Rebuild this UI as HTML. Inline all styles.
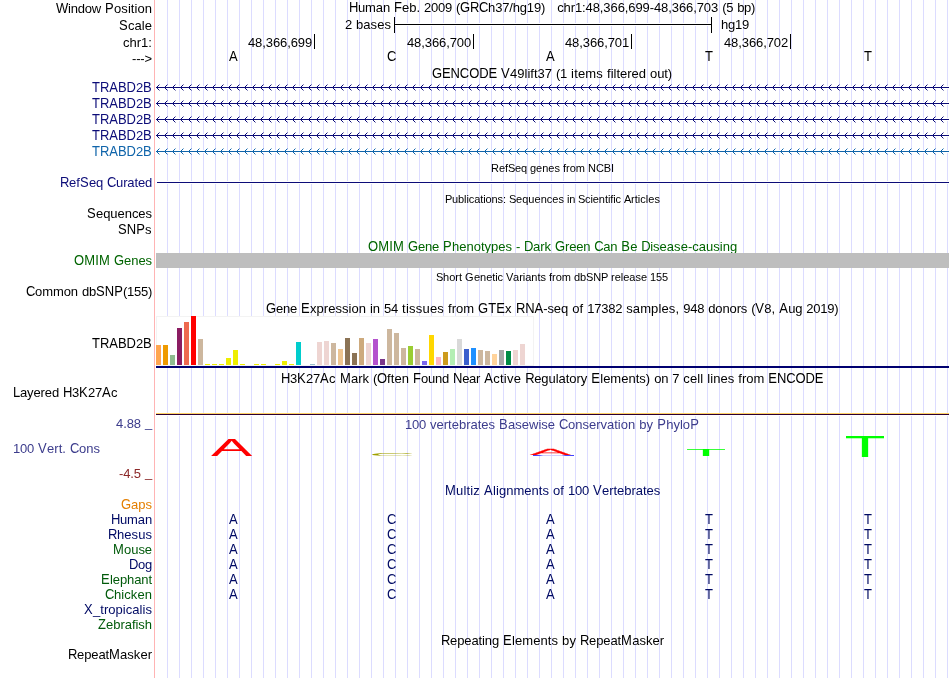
<!DOCTYPE html>
<html><head><meta charset="utf-8"><title>UCSC Genome Browser chr1:48,366,699-48,366,703</title>
<style>
html,body{margin:0;padding:0;background:#fff;}
body{width:950px;height:678px;position:relative;overflow:hidden;font-family:"Liberation Sans",Arial,Helvetica,sans-serif;font-size:13px;color:#000;}
.g{position:absolute;top:0;width:1px;height:678px;background:#dcdcff;}
.pk{position:absolute;top:0;left:154px;width:1px;height:678px;background:#ffb4b4;}
.t{position:absolute;white-space:pre;line-height:16px;height:16px;font-size:13px;word-spacing:0.39px;}
.u{display:inline-block;transform:scaleY(1.111);transform-origin:0 12px;}
.s{font-size:11px;word-spacing:-0.06px;}
.b{position:absolute;}
.nv{color:#0c0c78;}
.bl{color:#1c78b4;}
.gr{color:#006400;}
.mz{color:#000a64;}
.mg{color:#005a0a;}
</style></head><body>
<div class="g" style="left:167px"></div>
<div class="g" style="left:179px"></div>
<div class="g" style="left:191px"></div>
<div class="g" style="left:203px"></div>
<div class="g" style="left:215px"></div>
<div class="g" style="left:227px"></div>
<div class="g" style="left:239px"></div>
<div class="g" style="left:251px"></div>
<div class="g" style="left:263px"></div>
<div class="g" style="left:275px"></div>
<div class="g" style="left:287px"></div>
<div class="g" style="left:299px"></div>
<div class="g" style="left:311px"></div>
<div class="g" style="left:323px"></div>
<div class="g" style="left:335px"></div>
<div class="g" style="left:347px"></div>
<div class="g" style="left:359px"></div>
<div class="g" style="left:371px"></div>
<div class="g" style="left:383px"></div>
<div class="g" style="left:395px"></div>
<div class="g" style="left:407px"></div>
<div class="g" style="left:419px"></div>
<div class="g" style="left:431px"></div>
<div class="g" style="left:443px"></div>
<div class="g" style="left:455px"></div>
<div class="g" style="left:467px"></div>
<div class="g" style="left:479px"></div>
<div class="g" style="left:491px"></div>
<div class="g" style="left:503px"></div>
<div class="g" style="left:515px"></div>
<div class="g" style="left:527px"></div>
<div class="g" style="left:539px"></div>
<div class="g" style="left:551px"></div>
<div class="g" style="left:563px"></div>
<div class="g" style="left:575px"></div>
<div class="g" style="left:587px"></div>
<div class="g" style="left:599px"></div>
<div class="g" style="left:611px"></div>
<div class="g" style="left:623px"></div>
<div class="g" style="left:635px"></div>
<div class="g" style="left:647px"></div>
<div class="g" style="left:659px"></div>
<div class="g" style="left:671px"></div>
<div class="g" style="left:683px"></div>
<div class="g" style="left:695px"></div>
<div class="g" style="left:707px"></div>
<div class="g" style="left:719px"></div>
<div class="g" style="left:731px"></div>
<div class="g" style="left:743px"></div>
<div class="g" style="left:755px"></div>
<div class="g" style="left:767px"></div>
<div class="g" style="left:779px"></div>
<div class="g" style="left:791px"></div>
<div class="g" style="left:803px"></div>
<div class="g" style="left:815px"></div>
<div class="g" style="left:827px"></div>
<div class="g" style="left:839px"></div>
<div class="g" style="left:851px"></div>
<div class="g" style="left:863px"></div>
<div class="g" style="left:875px"></div>
<div class="g" style="left:887px"></div>
<div class="g" style="left:899px"></div>
<div class="g" style="left:911px"></div>
<div class="g" style="left:923px"></div>
<div class="g" style="left:935px"></div>
<div class="g" style="left:947px"></div>
<div class="pk"></div>
<div class="t" style="left:56px;top:1px;"><span class="u" style="letter-spacing:-0.270px">W</span><span style="letter-spacing:-0.193px">indow</span> <span class="u" style="letter-spacing:0.329px">P</span><span style="letter-spacing:0.060px">osition</span></div>
<div class="t" style="left:119px;top:18px;"><span class="u" style="letter-spacing:0.329px">S</span><span style="letter-spacing:0.038px">cale</span></div>
<div class="t" style="left:123px;top:35px;"><span style="letter-spacing:0.020px">chr1:</span></div>
<div class="t" style="left:132px;top:51px;"><span style="letter-spacing:-0.145px">---&gt;</span></div>
<div class="t" style="left:349px;top:0px;"><span class="u" style="letter-spacing:-0.388px">H</span><span style="letter-spacing:-0.130px">uman</span> <span class="u" style="letter-spacing:0.059px">F</span><span style="letter-spacing:-0.024px">eb.</span> <span style="letter-spacing:-0.230px">2009</span> <span style="letter-spacing:-0.329px">(</span><span class="u" style="letter-spacing:-0.296px">GRC</span><span style="letter-spacing:-0.172px">h37/hg19)</span>   <span style="letter-spacing:-0.091px">chr1:48,366,699-48,366,703</span> <span style="letter-spacing:-0.280px">(5</span> <span style="letter-spacing:-0.263px">bp)</span></div>
<div class="t" style="left:345px;top:17px;"><span style="letter-spacing:-0.230px">2</span> <span style="letter-spacing:0.062px">bases</span></div>
<div class="b" style="left:394px;top:17px;width:1px;height:16px;background:#000;"></div>
<div class="b" style="left:395px;top:23px;width:316px;height:3px;background:#fff;"></div>
<div class="b" style="left:394px;top:24px;width:318px;height:1px;background:#000;"></div>
<div class="b" style="left:711px;top:17px;width:1px;height:16px;background:#000;"></div>
<div class="t" style="left:721px;top:17px;"><span style="letter-spacing:-0.230px">hg19</span></div>
<div class="t" style="left:248px;top:35px;"><span style="letter-spacing:-0.106px">48,366,699</span></div>
<div class="b" style="left:314px;top:34px;width:1px;height:15px;background:#000;"></div>
<div class="t" style="left:407px;top:35px;"><span style="letter-spacing:-0.106px">48,366,700</span></div>
<div class="b" style="left:473px;top:34px;width:1px;height:15px;background:#000;"></div>
<div class="t" style="left:565px;top:35px;"><span style="letter-spacing:-0.106px">48,366,701</span></div>
<div class="b" style="left:631px;top:34px;width:1px;height:15px;background:#000;"></div>
<div class="t" style="left:724px;top:35px;"><span style="letter-spacing:-0.106px">48,366,702</span></div>
<div class="b" style="left:790px;top:34px;width:1px;height:15px;background:#000;"></div>
<div class="t" style="left:229px;top:49px;"><span class="u" style="letter-spacing:0.329px">A</span></div>
<div class="t" style="left:387px;top:49px;"><span class="u" style="letter-spacing:-0.388px">C</span></div>
<div class="t" style="left:546px;top:49px;"><span class="u" style="letter-spacing:0.329px">A</span></div>
<div class="t" style="left:705px;top:49px;"><span class="u" style="letter-spacing:0.059px">T</span></div>
<div class="t" style="left:864px;top:49px;"><span class="u" style="letter-spacing:0.059px">T</span></div>
<div class="t" style="left:432px;top:66px;"><span class="u" style="letter-spacing:-0.104px">GENCODE</span> <span class="u" style="letter-spacing:0.329px">V</span><span style="letter-spacing:0.010px">49lift37</span> <span style="letter-spacing:-0.280px">(1</span> <span style="letter-spacing:0.188px">items</span> filtered <span style="letter-spacing:-0.100px">out)</span></div>
<svg width="0" height="0" style="position:absolute"><defs><pattern id="ar0" width="8" height="7" patternUnits="userSpaceOnUse"><rect x="0" y="3" width="8" height="1" fill="#0c0c78"/><rect x="1" y="2" width="1" height="3" fill="#0c0c78"/><rect x="2" y="1" width="1" height="1" fill="#0c0c78"/><rect x="2" y="5" width="1" height="1" fill="#0c0c78"/><rect x="3" y="0" width="1" height="1" fill="#0c0c78" opacity="0.45"/><rect x="3" y="6" width="1" height="1" fill="#0c0c78" opacity="0.45"/></pattern><pattern id="ar1" width="8" height="7" patternUnits="userSpaceOnUse"><rect x="0" y="3" width="8" height="1" fill="#0f64aa"/><rect x="1" y="2" width="1" height="3" fill="#0f64aa"/><rect x="2" y="1" width="1" height="1" fill="#0f64aa"/><rect x="2" y="5" width="1" height="1" fill="#0f64aa"/><rect x="3" y="0" width="1" height="1" fill="#0f64aa" opacity="0.45"/><rect x="3" y="6" width="1" height="1" fill="#0f64aa" opacity="0.45"/></pattern></defs></svg>
<div class="t" style="left:92px;top:80px;color:#0c0c78"><span class="u" style="letter-spacing:-0.012px">TRABD</span><span style="letter-spacing:-0.230px">2</span><span class="u" style="letter-spacing:0.329px">B</span></div>
<div class="b" style="left:156px;top:86px;width:793px;height:3px;background:#fff;"></div>
<svg class="b" style="left:156px;top:84px" width="793" height="7" shape-rendering="crispEdges"><rect width="793" height="7" fill="url(#ar0)"/></svg>
<div class="t" style="left:92px;top:96px;color:#0c0c78"><span class="u" style="letter-spacing:-0.012px">TRABD</span><span style="letter-spacing:-0.230px">2</span><span class="u" style="letter-spacing:0.329px">B</span></div>
<div class="b" style="left:156px;top:102px;width:793px;height:3px;background:#fff;"></div>
<svg class="b" style="left:156px;top:100px" width="793" height="7" shape-rendering="crispEdges"><rect width="793" height="7" fill="url(#ar0)"/></svg>
<div class="t" style="left:92px;top:112px;color:#0c0c78"><span class="u" style="letter-spacing:-0.012px">TRABD</span><span style="letter-spacing:-0.230px">2</span><span class="u" style="letter-spacing:0.329px">B</span></div>
<div class="b" style="left:156px;top:118px;width:793px;height:3px;background:#fff;"></div>
<svg class="b" style="left:156px;top:116px" width="793" height="7" shape-rendering="crispEdges"><rect width="793" height="7" fill="url(#ar0)"/></svg>
<div class="t" style="left:92px;top:128px;color:#0c0c78"><span class="u" style="letter-spacing:-0.012px">TRABD</span><span style="letter-spacing:-0.230px">2</span><span class="u" style="letter-spacing:0.329px">B</span></div>
<div class="b" style="left:156px;top:134px;width:793px;height:3px;background:#fff;"></div>
<svg class="b" style="left:156px;top:132px" width="793" height="7" shape-rendering="crispEdges"><rect width="793" height="7" fill="url(#ar0)"/></svg>
<div class="t" style="left:92px;top:144px;color:#0f64aa"><span class="u" style="letter-spacing:-0.012px">TRABD</span><span style="letter-spacing:-0.230px">2</span><span class="u" style="letter-spacing:0.329px">B</span></div>
<div class="b" style="left:156px;top:150px;width:793px;height:3px;background:#fff;"></div>
<svg class="b" style="left:156px;top:148px" width="793" height="7" shape-rendering="crispEdges"><rect width="793" height="7" fill="url(#ar1)"/></svg>
<div class="t s" style="left:491px;top:160px;"><span style="letter-spacing:0.056px">R</span><span style="letter-spacing:-0.087px">ef</span><span style="letter-spacing:-0.337px">S</span><span style="letter-spacing:-0.118px">eq</span> <span style="letter-spacing:0.006px">genes</span> from <span style="letter-spacing:-0.070px">NCBI</span></div>
<div class="t nv" style="left:60px;top:175px;"><span class="u" style="letter-spacing:-0.388px">R</span><span style="letter-spacing:0.079px">ef</span><span class="u" style="letter-spacing:0.329px">S</span><span style="letter-spacing:-0.230px">eq</span> <span class="u" style="letter-spacing:-0.388px">C</span><span style="letter-spacing:-0.143px">urated</span></div>
<div class="b" style="left:157px;top:181px;width:792px;height:3px;background:#fff;"></div>
<div class="b" style="left:157px;top:182px;width:792px;height:1px;background:#0c0c78;"></div>
<div class="t s" style="left:445px;top:191px;"><span style="letter-spacing:-0.337px">P</span><span style="letter-spacing:-0.086px">ublications:</span> <span style="letter-spacing:-0.337px">S</span><span style="letter-spacing:0.037px">equences</span> <span style="letter-spacing:-0.281px">in</span> <span style="letter-spacing:-0.337px">S</span><span style="letter-spacing:-0.075px">cientific</span> <span style="letter-spacing:-0.337px">A</span><span style="letter-spacing:0.039px">rticles</span></div>
<div class="t" style="left:87px;top:206px;"><span class="u" style="letter-spacing:0.329px">S</span><span style="letter-spacing:-0.047px">equences</span></div>
<div class="t" style="left:118px;top:222px;"><span class="u" style="letter-spacing:0.090px">SNP</span><span style="letter-spacing:0.500px">s</span></div>
<div class="t gr" style="left:368px;top:239px;"><span class="u" style="letter-spacing:0.155px">OMIM</span> <span class="u" style="letter-spacing:-0.112px">G</span><span style="letter-spacing:-0.230px">ene</span> <span class="u" style="letter-spacing:0.329px">P</span>henotypes <span style="letter-spacing:-0.329px">-</span> <span class="u" style="letter-spacing:-0.388px">D</span><span style="letter-spacing:-0.020px">ark</span> <span class="u" style="letter-spacing:-0.112px">G</span><span style="letter-spacing:-0.255px">reen</span> <span class="u" style="letter-spacing:-0.388px">C</span><span style="letter-spacing:-0.230px">an</span> <span class="u" style="letter-spacing:0.329px">B</span><span style="letter-spacing:-0.230px">e</span> <span class="u" style="letter-spacing:-0.388px">D</span><span style="letter-spacing:0.020px">isease-causing</span></div>
<div class="t gr" style="left:74px;top:253px;"><span class="u" style="letter-spacing:0.155px">OMIM</span> <span class="u" style="letter-spacing:-0.112px">G</span><span style="letter-spacing:-0.047px">enes</span></div>
<div class="b" style="left:156px;top:253px;width:793px;height:15px;background:#bebebe;"></div>
<div class="t s" style="left:436px;top:269px;"><span style="letter-spacing:-0.337px">S</span><span style="letter-spacing:0.011px">hort</span> <span style="letter-spacing:0.444px">G</span><span style="letter-spacing:-0.059px">enetic</span> <span style="letter-spacing:-0.337px">V</span>ariants from <span style="letter-spacing:-0.118px">db</span><span style="letter-spacing:-0.206px">SNP</span> <span style="letter-spacing:-0.011px">release</span> <span style="letter-spacing:-0.118px">155</span></div>
<div class="t" style="left:26px;top:284px;"><span class="u" style="letter-spacing:-0.388px">C</span><span style="letter-spacing:-0.070px">ommon</span> <span style="letter-spacing:-0.230px">db</span><span class="u" style="letter-spacing:0.090px">SNP</span><span style="letter-spacing:-0.270px">(155)</span></div>
<div class="t" style="left:266px;top:301px;"><span class="u" style="letter-spacing:-0.112px">G</span><span style="letter-spacing:-0.230px">ene</span> <span class="u" style="letter-spacing:0.329px">E</span><span style="letter-spacing:0.040px">xpression</span> <span style="letter-spacing:-0.059px">in</span> <span style="letter-spacing:-0.230px">54</span> <span style="letter-spacing:0.220px">tissues</span> from <span class="u" style="letter-spacing:0.092px">GTE</span><span style="letter-spacing:0.500px">x</span> <span class="u" style="letter-spacing:-0.149px">RNA</span><span style="letter-spacing:-0.072px">-seq</span> <span style="letter-spacing:0.079px">of</span> <span style="letter-spacing:-0.230px">17382</span> <span style="letter-spacing:0.123px">samples,</span> <span style="letter-spacing:-0.230px">948</span> <span style="letter-spacing:-0.125px">donors</span> <span style="letter-spacing:-0.329px">(</span><span class="u" style="letter-spacing:0.329px">V</span><span style="letter-spacing:0.079px">8,</span> <span class="u" style="letter-spacing:0.329px">A</span><span style="letter-spacing:-0.230px">ug</span> <span style="letter-spacing:-0.250px">2019)</span></div>
<div class="t" style="left:92px;top:336px;"><span class="u" style="letter-spacing:-0.012px">TRABD</span><span style="letter-spacing:-0.230px">2</span><span class="u" style="letter-spacing:0.329px">B</span></div>
<div class="b" style="left:156px;top:316px;width:378px;height:50px;background:#fff;box-sizing:border-box;border:1px solid #f3f3f3;"></div>
<div class="b" style="left:156px;top:345px;width:5px;height:20px;background:#FFA54F;"></div>
<div class="b" style="left:163px;top:345px;width:5px;height:20px;background:#EE9A00;"></div>
<div class="b" style="left:170px;top:355px;width:5px;height:10px;background:#8FBC8F;"></div>
<div class="b" style="left:177px;top:328px;width:5px;height:37px;background:#8B1C62;"></div>
<div class="b" style="left:184px;top:322px;width:5px;height:43px;background:#EE6A50;"></div>
<div class="b" style="left:191px;top:316px;width:5px;height:49px;background:#FF0000;"></div>
<div class="b" style="left:198px;top:339px;width:5px;height:26px;background:#CDB79E;"></div>
<div class="b" style="left:205px;top:364px;width:5px;height:1px;background:#EEEE00;"></div>
<div class="b" style="left:212px;top:364px;width:5px;height:1px;background:#EEEE00;"></div>
<div class="b" style="left:219px;top:364px;width:5px;height:1px;background:#EEEE00;"></div>
<div class="b" style="left:226px;top:358px;width:5px;height:7px;background:#EEEE00;"></div>
<div class="b" style="left:233px;top:350px;width:5px;height:15px;background:#EEEE00;"></div>
<div class="b" style="left:240px;top:364px;width:5px;height:1px;background:#EEEE00;"></div>
<div class="b" style="left:254px;top:364px;width:5px;height:1px;background:#EEEE00;"></div>
<div class="b" style="left:261px;top:364px;width:5px;height:1px;background:#EEEE00;"></div>
<div class="b" style="left:275px;top:364px;width:5px;height:1px;background:#EEEE00;"></div>
<div class="b" style="left:282px;top:361px;width:5px;height:4px;background:#EEEE00;"></div>
<div class="b" style="left:289px;top:364px;width:5px;height:1px;background:#EEEE00;"></div>
<div class="b" style="left:296px;top:342px;width:5px;height:23px;background:#00CDCD;"></div>
<div class="b" style="left:310px;top:364px;width:5px;height:1px;background:#9AC0CD;"></div>
<div class="b" style="left:317px;top:342px;width:5px;height:23px;background:#EED5D2;"></div>
<div class="b" style="left:324px;top:341px;width:5px;height:24px;background:#EED5D2;"></div>
<div class="b" style="left:331px;top:343px;width:5px;height:22px;background:#CDB79E;"></div>
<div class="b" style="left:338px;top:349px;width:5px;height:16px;background:#EEC591;"></div>
<div class="b" style="left:345px;top:338px;width:5px;height:27px;background:#8B7355;"></div>
<div class="b" style="left:352px;top:353px;width:5px;height:12px;background:#8B7355;"></div>
<div class="b" style="left:359px;top:338px;width:5px;height:27px;background:#CDAA7D;"></div>
<div class="b" style="left:366px;top:343px;width:5px;height:22px;background:#EED5D2;"></div>
<div class="b" style="left:373px;top:339px;width:5px;height:26px;background:#B452CD;"></div>
<div class="b" style="left:380px;top:359px;width:5px;height:6px;background:#7A378B;"></div>
<div class="b" style="left:387px;top:329px;width:5px;height:36px;background:#CDB79E;"></div>
<div class="b" style="left:394px;top:333px;width:5px;height:32px;background:#CDB79E;"></div>
<div class="b" style="left:401px;top:348px;width:5px;height:17px;background:#CDB79E;"></div>
<div class="b" style="left:408px;top:346px;width:5px;height:19px;background:#9ACD32;"></div>
<div class="b" style="left:415px;top:349px;width:5px;height:16px;background:#CDB79E;"></div>
<div class="b" style="left:422px;top:361px;width:5px;height:4px;background:#7A67EE;"></div>
<div class="b" style="left:429px;top:335px;width:5px;height:30px;background:#FFD700;"></div>
<div class="b" style="left:436px;top:357px;width:5px;height:8px;background:#FFB6C1;"></div>
<div class="b" style="left:443px;top:352px;width:5px;height:13px;background:#CD9B1D;"></div>
<div class="b" style="left:450px;top:349px;width:5px;height:16px;background:#B4EEB4;"></div>
<div class="b" style="left:457px;top:339px;width:5px;height:26px;background:#D9D9D9;"></div>
<div class="b" style="left:464px;top:349px;width:5px;height:16px;background:#3A5FCD;"></div>
<div class="b" style="left:471px;top:348px;width:5px;height:17px;background:#1E90FF;"></div>
<div class="b" style="left:478px;top:350px;width:5px;height:15px;background:#CDB79E;"></div>
<div class="b" style="left:485px;top:351px;width:5px;height:14px;background:#CDB79E;"></div>
<div class="b" style="left:492px;top:354px;width:5px;height:11px;background:#FFD39B;"></div>
<div class="b" style="left:499px;top:350px;width:5px;height:15px;background:#A6A6A6;"></div>
<div class="b" style="left:506px;top:351px;width:5px;height:14px;background:#008B45;"></div>
<div class="b" style="left:513px;top:350px;width:5px;height:15px;background:#EED5D2;"></div>
<div class="b" style="left:520px;top:344px;width:5px;height:21px;background:#EED5D2;"></div>
<div class="b" style="left:156px;top:366px;width:793px;height:2px;background:#000070;"></div>
<div class="t" style="left:281px;top:371px;"><span class="u" style="letter-spacing:-0.388px">H</span><span style="letter-spacing:-0.230px">3</span><span class="u" style="letter-spacing:0.329px">K</span><span style="letter-spacing:-0.230px">27</span><span class="u" style="letter-spacing:0.329px">A</span><span style="letter-spacing:0.500px">c</span> <span class="u" style="letter-spacing:0.171px">M</span><span style="letter-spacing:-0.020px">ark</span> <span style="letter-spacing:-0.329px">(</span><span class="u" style="letter-spacing:-0.112px">O</span><span style="letter-spacing:0.079px">ften</span> <span class="u" style="letter-spacing:0.059px">F</span><span style="letter-spacing:-0.230px">ound</span> <span class="u" style="letter-spacing:-0.388px">N</span><span style="letter-spacing:-0.263px">ear</span> <span class="u" style="letter-spacing:0.329px">A</span><span style="letter-spacing:0.254px">ctive</span> <span class="u" style="letter-spacing:-0.388px">R</span><span style="letter-spacing:-0.053px">egulatory</span> <span class="u" style="letter-spacing:0.329px">E</span><span style="letter-spacing:0.019px">lements)</span> <span style="letter-spacing:-0.230px">on</span> <span style="letter-spacing:-0.230px">7</span> <span style="letter-spacing:0.123px">cell</span> <span style="letter-spacing:0.053px">lines</span> from <span class="u" style="letter-spacing:-0.103px">ENCODE</span></div>
<div class="t" style="left:13px;top:385px;"><span class="u" style="letter-spacing:-0.230px">L</span><span style="letter-spacing:-0.125px">ayered</span> <span class="u" style="letter-spacing:-0.388px">H</span><span style="letter-spacing:-0.230px">3</span><span class="u" style="letter-spacing:0.329px">K</span><span style="letter-spacing:-0.230px">27</span><span class="u" style="letter-spacing:0.329px">A</span><span style="letter-spacing:0.500px">c</span></div>
<div class="b" style="left:156px;top:413px;width:793px;height:1px;background:#ffd264;"></div>
<div class="b" style="left:156px;top:414px;width:793px;height:1px;background:#2d0032;"></div>
<div class="b" style="left:156px;top:415px;width:793px;height:1px;background:#fff;"></div>
<div class="t" style="left:405px;top:417px;color:#3c3c8c"><span style="letter-spacing:-0.230px">100</span> vertebrates <span class="u" style="letter-spacing:0.329px">B</span><span style="letter-spacing:0.005px">asewise</span> <span class="u" style="letter-spacing:-0.388px">C</span><span style="letter-spacing:-0.019px">onservation</span> <span style="letter-spacing:0.135px">by</span> <span class="u" style="letter-spacing:0.329px">P</span><span style="letter-spacing:0.038px">hylo</span><span class="u" style="letter-spacing:0.329px">P</span></div>
<div class="t" style="left:116px;top:416px;color:#3c3c8c"><span style="letter-spacing:-0.075px">4.88</span> <span style="position:relative;top:-1px;letter-spacing:-0.23px">_</span></div>
<div class="t" style="left:13px;top:441px;color:#3c3c8c"><span style="letter-spacing:-0.230px">100</span> <span class="u" style="letter-spacing:0.329px">V</span><span style="letter-spacing:0.054px">ert.</span> <span class="u" style="letter-spacing:-0.388px">C</span><span style="letter-spacing:0.013px">ons</span></div>
<div class="t" style="left:119px;top:466px;color:#8c2828"><span style="letter-spacing:-0.100px">-4.5</span> <span style="position:relative;top:-1px;letter-spacing:-0.23px">_</span></div>
<svg class="b" style="left:156px;top:430px" width="794" height="30" viewBox="156 430 794 30">
<text x="0" y="0" transform="translate(210.88 456.00) scale(0.6183 0.2471)" font-family="Liberation Sans,Arial,sans-serif" font-size="100" text-rendering="geometricPrecision" fill="#ff0000">A</text>
<text x="0" y="0" transform="translate(368.71 455.96) scale(0.6474 0.0424)" font-family="Liberation Sans,Arial,sans-serif" font-size="100" text-rendering="geometricPrecision" fill="#a0a000">C</text>
<defs><linearGradient id="bg" x1="0" x2="1" y1="0" y2="0"><stop offset="0" stop-color="#4040ff"/><stop offset="0.15" stop-color="#5050ff"/><stop offset="0.25" stop-color="#d0d0ff"/><stop offset="0.7" stop-color="#d0d0ff"/><stop offset="0.8" stop-color="#5050ff"/><stop offset="1" stop-color="#4040ff"/></linearGradient></defs>
<rect x="533" y="455" width="41" height="1" fill="url(#bg)"/>
<text x="0" y="0" transform="translate(529.88 455.30) scale(0.6108 0.0887)" font-family="Liberation Sans,Arial,sans-serif" font-size="100" text-rendering="geometricPrecision" fill="#ff0000" stroke="#ff0000" stroke-width="1.1" vector-effect="non-scaling-stroke">A</text>
<text x="0" y="0" transform="translate(685.49 456.00) scale(0.6721 0.1017)" font-family="Liberation Sans,Arial,sans-serif" font-size="100" text-rendering="geometricPrecision" fill="#00ff00">T</text>
<text x="0" y="0" transform="translate(844.49 457.00) scale(0.6721 0.3052)" font-family="Liberation Sans,Arial,sans-serif" font-size="100" text-rendering="geometricPrecision" fill="#00ff00">T</text>
</svg>
<div class="t mz" style="left:445px;top:483px;"><span class="u" style="letter-spacing:0.171px">M</span><span style="letter-spacing:0.176px">ultiz</span> <span class="u" style="letter-spacing:0.329px">A</span><span style="letter-spacing:0.040px">lignments</span> <span style="letter-spacing:0.079px">of</span> <span style="letter-spacing:-0.230px">100</span> <span class="u" style="letter-spacing:0.329px">V</span><span style="letter-spacing:-0.053px">ertebrates</span></div>
<div class="t" style="left:121px;top:497px;color:#e47f00"><span class="u" style="letter-spacing:-0.112px">G</span><span style="letter-spacing:0.013px">aps</span></div>
<div class="t mz" style="left:111px;top:512px;"><span class="u" style="letter-spacing:-0.388px">H</span><span style="letter-spacing:-0.130px">uman</span></div>
<div class="t mz" style="left:229px;top:512px;"><span class="u" style="letter-spacing:0.329px">A</span></div>
<div class="t mz" style="left:387px;top:512px;"><span class="u" style="letter-spacing:-0.388px">C</span></div>
<div class="t mz" style="left:546px;top:512px;"><span class="u" style="letter-spacing:0.329px">A</span></div>
<div class="t mz" style="left:705px;top:512px;"><span class="u" style="letter-spacing:0.059px">T</span></div>
<div class="t mz" style="left:864px;top:512px;"><span class="u" style="letter-spacing:0.059px">T</span></div>
<div class="t mz" style="left:108px;top:527px;"><span class="u" style="letter-spacing:-0.388px">R</span><span style="letter-spacing:0.062px">hesus</span></div>
<div class="t mz" style="left:229px;top:527px;"><span class="u" style="letter-spacing:0.329px">A</span></div>
<div class="t mz" style="left:387px;top:527px;"><span class="u" style="letter-spacing:-0.388px">C</span></div>
<div class="t mz" style="left:546px;top:527px;"><span class="u" style="letter-spacing:0.329px">A</span></div>
<div class="t mz" style="left:705px;top:527px;"><span class="u" style="letter-spacing:0.059px">T</span></div>
<div class="t mz" style="left:864px;top:527px;"><span class="u" style="letter-spacing:0.059px">T</span></div>
<div class="t mg" style="left:113px;top:542px;"><span class="u" style="letter-spacing:0.171px">M</span><span style="letter-spacing:-0.047px">ouse</span></div>
<div class="t mz" style="left:229px;top:542px;"><span class="u" style="letter-spacing:0.329px">A</span></div>
<div class="t mz" style="left:387px;top:542px;"><span class="u" style="letter-spacing:-0.388px">C</span></div>
<div class="t mz" style="left:546px;top:542px;"><span class="u" style="letter-spacing:0.329px">A</span></div>
<div class="t mz" style="left:705px;top:542px;"><span class="u" style="letter-spacing:0.059px">T</span></div>
<div class="t mz" style="left:864px;top:542px;"><span class="u" style="letter-spacing:0.059px">T</span></div>
<div class="t mz" style="left:129px;top:557px;"><span class="u" style="letter-spacing:-0.388px">D</span><span style="letter-spacing:-0.230px">og</span></div>
<div class="t mz" style="left:229px;top:557px;"><span class="u" style="letter-spacing:0.329px">A</span></div>
<div class="t mz" style="left:387px;top:557px;"><span class="u" style="letter-spacing:-0.388px">C</span></div>
<div class="t mz" style="left:546px;top:557px;"><span class="u" style="letter-spacing:0.329px">A</span></div>
<div class="t mz" style="left:705px;top:557px;"><span class="u" style="letter-spacing:0.059px">T</span></div>
<div class="t mz" style="left:864px;top:557px;"><span class="u" style="letter-spacing:0.059px">T</span></div>
<div class="t mg" style="left:101px;top:572px;"><span class="u" style="letter-spacing:0.329px">E</span><span style="letter-spacing:-0.093px">lephant</span></div>
<div class="t mz" style="left:229px;top:572px;"><span class="u" style="letter-spacing:0.329px">A</span></div>
<div class="t mz" style="left:387px;top:572px;"><span class="u" style="letter-spacing:-0.388px">C</span></div>
<div class="t mz" style="left:546px;top:572px;"><span class="u" style="letter-spacing:0.329px">A</span></div>
<div class="t mz" style="left:705px;top:572px;"><span class="u" style="letter-spacing:0.059px">T</span></div>
<div class="t mz" style="left:864px;top:572px;"><span class="u" style="letter-spacing:0.059px">T</span></div>
<div class="t mg" style="left:105px;top:587px;"><span class="u" style="letter-spacing:-0.388px">C</span><span style="letter-spacing:0.070px">hicken</span></div>
<div class="t mz" style="left:229px;top:587px;"><span class="u" style="letter-spacing:0.329px">A</span></div>
<div class="t mz" style="left:387px;top:587px;"><span class="u" style="letter-spacing:-0.388px">C</span></div>
<div class="t mz" style="left:546px;top:587px;"><span class="u" style="letter-spacing:0.329px">A</span></div>
<div class="t mz" style="left:705px;top:587px;"><span class="u" style="letter-spacing:0.059px">T</span></div>
<div class="t mz" style="left:864px;top:587px;"><span class="u" style="letter-spacing:0.059px">T</span></div>
<div class="t mz" style="left:84px;top:602px;"><span class="u" style="letter-spacing:0.329px">X</span><span style="letter-spacing:0.043px">_tropicalis</span></div>
<div class="t mg" style="left:98px;top:617px;"><span class="u" style="letter-spacing:0.059px">Z</span><span style="letter-spacing:-0.031px">ebrafish</span></div>
<div class="t" style="left:441px;top:633px;"><span class="u" style="letter-spacing:-0.388px">R</span><span style="letter-spacing:-0.110px">epeating</span> <span class="u" style="letter-spacing:0.329px">E</span><span style="letter-spacing:0.069px">lements</span> <span style="letter-spacing:0.135px">by</span> <span class="u" style="letter-spacing:-0.388px">R</span><span style="letter-spacing:-0.106px">epeat</span><span class="u" style="letter-spacing:0.171px">M</span><span style="letter-spacing:0.042px">asker</span></div>
<div class="t" style="left:68px;top:647px;"><span class="u" style="letter-spacing:-0.388px">R</span><span style="letter-spacing:-0.106px">epeat</span><span class="u" style="letter-spacing:0.171px">M</span><span style="letter-spacing:0.042px">asker</span></div>
</body></html>
